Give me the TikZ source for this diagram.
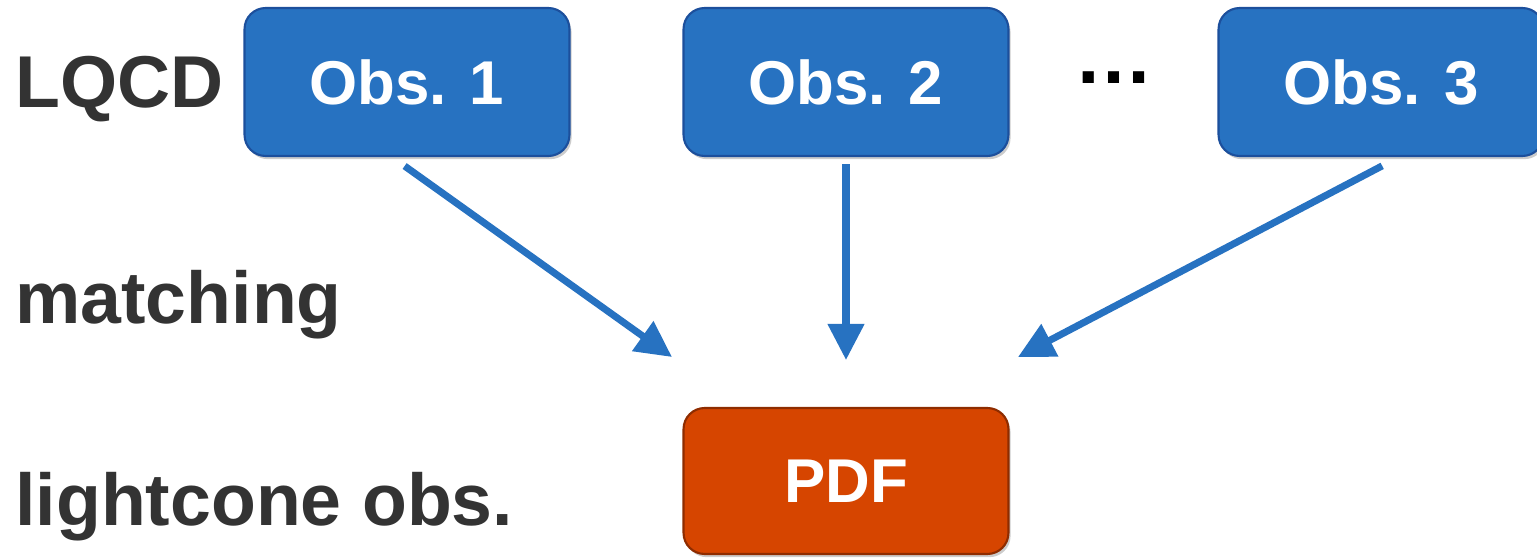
\documentclass[tikz,border=0pt]{standalone}
\usepackage{fontspec}
\setmainfont{Liberation Sans}
\usetikzlibrary{positioning, arrows.meta, shadows}

\definecolor{obsblue}{HTML}{2772C1}
\definecolor{obsedge}{HTML}{1C4F9C}
\definecolor{pdforange}{HTML}{D64500}
\definecolor{pdfedge}{HTML}{8E2C00}
\definecolor{labelgray}{HTML}{333333}

\newcommand{\labelfont}{\fontsize{41.8}{48}\selectfont\bfseries}
\newcommand{\boxfont}{\fontsize{35.2}{42}\selectfont\bfseries}

\tikzset{
  obsbox/.style={draw=obsedge, fill=obsblue, line width=1.2pt, rounded corners=12pt,
    minimum width=6.5cm, minimum height=2.96cm, text=white, font=\boxfont,
    drop shadow={shadow xshift=1.2pt, shadow yshift=-1.8pt, opacity=0.4}},
  pdfbox/.style={obsbox, draw=pdfedge, fill=pdforange, minimum height=2.92cm},
  rowlabel/.style={anchor=base west, inner sep=0pt, text=labelgray, font=\labelfont},
  feed/.style={-{Triangle[length=20.5pt,width=20pt]}, line width=4pt, draw=obsblue},
}

\begin{document}
\begin{tikzpicture}[x=0.02cm, y=-0.02cm]
  \useasboundingbox (0,0) rectangle (1537,560);

  % row labels
  \node [rowlabel] (lqcd) at (15,108) {LQCD};
  \node [rowlabel] (match) at (15,323) {matching};
  \node [rowlabel] (lcobs) at (15,525) {lightcone obs.};

  % blocks
  \node [obsbox] (obs1) at (407,82) {Obs. 1};
  \node [obsbox] (obs2) at (846,82) {Obs. 2};
  \node [obsbox] (obs3) at (1381,82) {Obs. 3};
  \node [pdfbox] (pdf) at (846,481) {PDF};
  \node [anchor=base, inner sep=0pt, font=\fontsize{45}{50}\selectfont\bfseries] (dots) at (1114,84) {…};

  % arrow tips
  \coordinate (tip1) at (672,357);
  \coordinate (tip2) at (846,360);
  \coordinate (tip3) at (1018,357);

  % connect blocks
  \draw [feed, shorten <=0.31cm] ([xshift=-0.3cm]obs1.south) -- (tip1);
  \draw [feed, shorten <=0.14cm] (obs2.south) -- (tip2);
  \draw [feed, shorten <=0.38cm] ([xshift=0.36cm]obs3.south) -- (tip3);
\end{tikzpicture}
\end{document}
